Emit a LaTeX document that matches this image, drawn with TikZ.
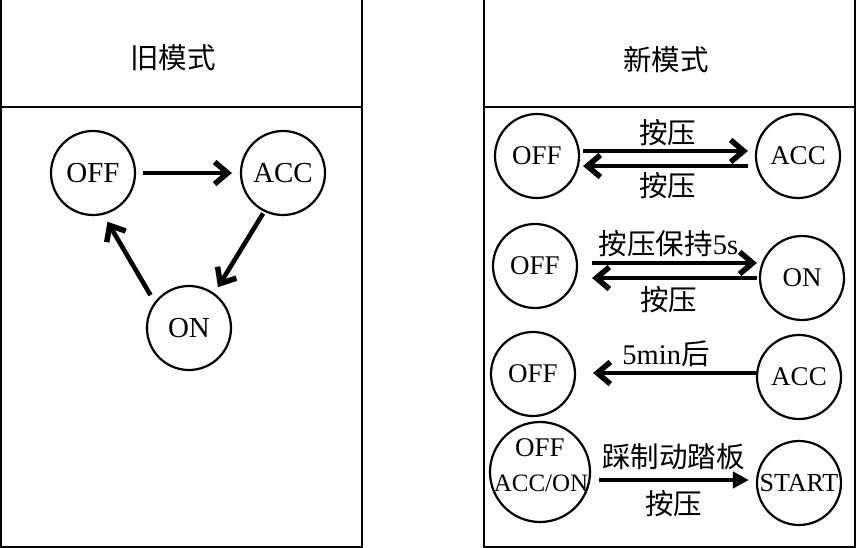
\documentclass[tikz,border=0pt]{standalone}
\usepackage{fontspec}
\setmainfont{Liberation Serif}
\newfontfamily\cjk{Noto Sans CJK SC}
\usepackage{tikz}
\usetikzlibrary{
	arrows.meta,
	calc
}

\begin{document}
\begin{tikzpicture}[x=1pt,y=-1pt,
		>={Straight Barb[length=13pt,width=22pt,line width=5.5pt]},
		state/.style={circle,draw,line width=2.2pt,minimum size=84pt,inner sep=0pt,
			font=\fontsize{27}{31}\selectfont},
		big/.style={font=\fontsize{29}{33}\selectfont},
		move/.style={->,line width=4.6pt},
		lbl/.style={inner sep=0pt,font=\fontsize{28.5}{32}\selectfont},
		panel/.style={line width=1.2pt}]
			
			\useasboundingbox (0,0) rectangle (857,548);
			
			\draw[panel] (1,0) -- (1,547) -- (362,547) -- (362,0);
			\draw[panel] (1,107) -- (362,107);
			\draw[panel] (484,0) -- (484,547) -- (855,547) -- (855,0);
			\draw[panel] (484,107) -- (855,107);
			
			\node[lbl] (oldtitle) at (173,58) {\cjk 旧模式};
			\node[lbl] (newtitle) at (666,60) {\cjk 新模式};
			
			\node[state,big] (off0) at (93,173) {OFF};
			\node[state,big] (acc0) at (283,173) {ACC};
			\node[state,big] (on0) at (189,328) {ON};
			
			\draw[move,shorten <=7pt,shorten >=8pt] (off0) -- (acc0);
			\draw[move,shorten <=2pt,shorten >=7pt] (acc0.244) -- (on0.54);
			\draw[move,shorten <=8pt,shorten >=8pt] (on0.143) -- (off0.284);
			
			\node[state] (off1) at (537,156) {OFF};
			\node[state] (acc1) at (798,156) {ACC};
			
			\draw[move,shorten <=3pt,shorten >=7pt] (off1.east |- 0,151) -- (acc1.west |- 0,151)
			node[lbl,midway,above=3pt] (press1) {\cjk 按压};
			\draw[move,shorten <=7pt,shorten >=3pt] (acc1.west |- 0,166) -- (off1.east |- 0,166)
			node[lbl,midway,below=4pt] (press2) {\cjk 按压};
			
			\node[state] (off2) at (535,266) {OFF};
			\node[state] (on2) at (802,278) {ON};
			
			\draw[move,shorten <=14pt,shorten >=2pt] (off2.east |- 0,263) -- (on2.west |- 0,263)
			node[lbl,midway,above=4pt] (hold) {{\cjk 按压保持}5s};
			\draw[move,shorten <=2pt,shorten >=14pt] (on2.west |- 0,278) -- (off2.east |- 0,278)
			node[lbl,midway,below=6pt] (press3) {\cjk 按压};
			
			\node[state] (off3) at (533,374) {OFF};
			\node[state] (acc3) at (799,377) {ACC};
			
			\draw[move,shorten <=0pt,shorten >=17pt] (acc3.west |- 0,373) -- (off3.east |- 0,373)
			node[lbl,midway,above=4pt] (delay) {5min{\cjk 后}};
			
			\node[state,minimum size=100pt] (mix) at (540,472) {};
			\node[lbl,font=\fontsize{27}{31}\selectfont] (mixoff) at ($(mix)+(0,-24)$) {OFF};
			\node[lbl,font=\fontsize{25}{29}\selectfont] (mixon) at ($(mix)+(1,11)$) {ACC/ON};
			\node[state,font=\fontsize{26}{30}\selectfont] (start) at (799,483) {START};
			
			\draw[move,-{Triangle[length=16pt,width=16pt]},shorten <=8pt,shorten >=7pt]
			(mix.east |- 0,480) -- (start.west |- 0,480)
			node[lbl,midway,above=8pt] (brake) {\cjk 踩制动踏板}
			node[lbl,midway,below=8pt] (press4) {\cjk 按压};
			
		\end{tikzpicture}
\end{document}
